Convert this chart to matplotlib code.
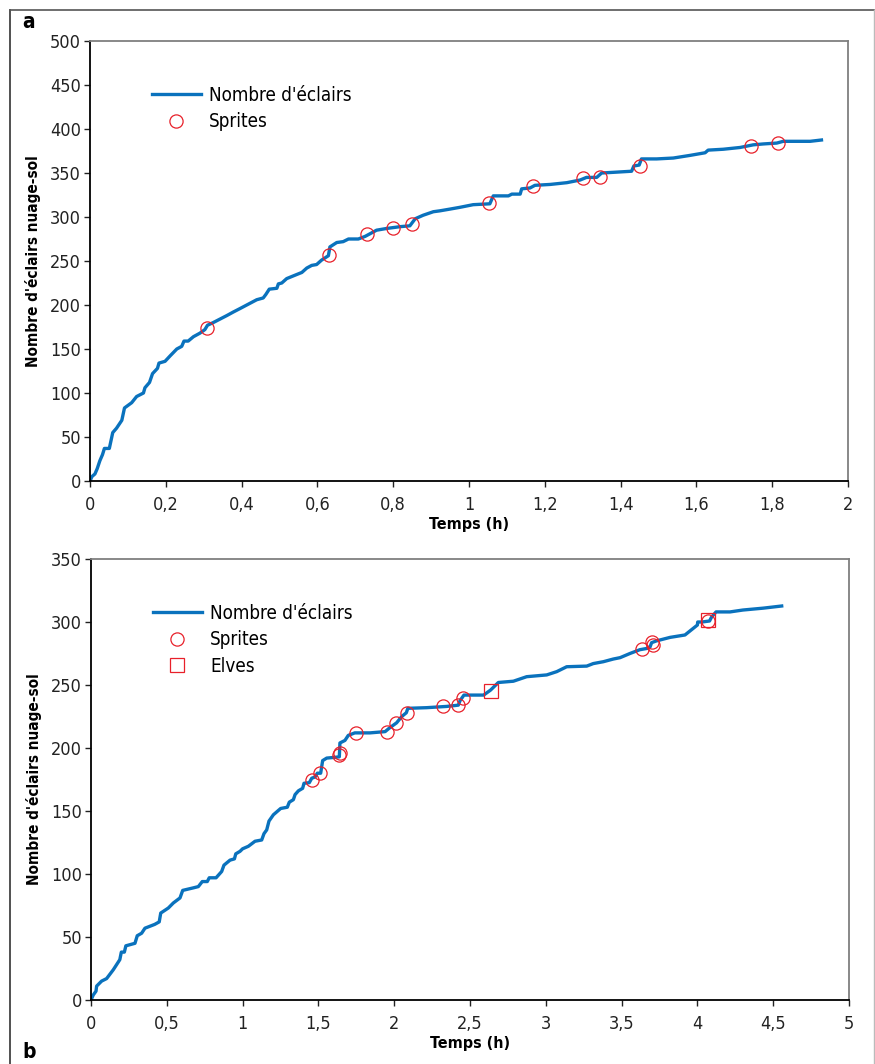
"""Cumulative cloud-to-ground flashes with sprites / elves (panels a and b)."""

import matplotlib
matplotlib.use("Agg")
import matplotlib.pyplot as plt
from matplotlib.lines import Line2D

plt.rcParams["font.family"] = ["DejaVu Sans"]
plt.rcParams["font.stretch"] = "condensed"

BLUE = "#0a72bd"
RED = "#e8202a"

# panel a
top_t = [0, .005, .013, .019, .026, .033, .038, .051, .060, .070, .084, .091, .11, .123,
         .141, .145, .157, .165, .178, .182, .198, .211, .229, .242, .248, .259, .273, .29,
         .303, .31, .325, .343, .361, .378, .396, .418, .44, .457, .464, .473, .493, .497,
         .506, .519, .536, .559, .572, .585, .598, .611, .629, .633, .651, .668, .682, .708,
         .726, .739, .756, .783, .818, .844, .858, .879, .906, .923, .95, .976, 1.011, 1.055,
         1.064, 1.104, 1.113, 1.135, 1.139, 1.161, 1.174, 1.214, 1.258, 1.293, 1.31, 1.337,
         1.35, 1.39, 1.429, 1.435, 1.449, 1.455, 1.495, 1.539, 1.583, 1.623, 1.631, 1.671,
         1.715, 1.75, 1.776, 1.812, 1.829, 1.9, 1.93]
top_n = [0, 5, 8, 14, 23, 30, 37, 37, 55, 60, 69, 83, 89, 96,
         100, 106, 112, 122, 128, 134, 136, 142, 150, 153, 159, 159, 164, 168,
         172, 177, 180, 184, 188, 192, 196, 201, 206, 208, 212, 218, 219, 224,
         225, 230, 233, 237, 242, 245, 246, 251, 256, 266, 271, 272, 275, 275,
         278, 281, 285, 287, 289, 290, 298, 302, 306, 307, 309, 311, 314, 315,
         324, 324, 326, 326, 332, 333, 336, 337, 339, 342, 345, 345,
         350, 351, 352, 358, 359, 366, 366, 367, 370, 373, 376, 377,
         379, 382, 383, 384, 386, 386, 387.5]
top_sprite_t = [0.308, 0.63, 0.731, 0.80, 0.849, 1.054, 1.168, 1.30, 1.346, 1.451, 1.744, 1.814]
top_sprite_n = [174, 257, 281, 288, 292, 315.5, 335, 344, 346, 358, 381, 384]

# panel b
bot_t = [0, .015, .033, .037, .07, .103, .147, .19, .2, .22, .23, .29, .305, .334, .356,
         .42, .45, .46, .51, .543, .587, .605, .675, .708, .734, .767, .78, .825, .862, .877,
         .917, .946, .955, .983, 1.0, 1.038, 1.082, 1.126, 1.141, 1.159, 1.174, 1.203, 1.251,
         1.295, 1.308, 1.335, 1.346, 1.368, 1.396, 1.405, 1.44, 1.456, 1.478, 1.493, 1.515,
         1.528, 1.555, 1.61, 1.638, 1.642, 1.675, 1.697, 1.74, 1.84, 1.94, 1.97, 2.016, 2.05,
         2.08, 2.09, 2.214, 2.346, 2.423, 2.434, 2.46, 2.59, 2.636, 2.687, 2.786, 2.874, 3.006,
         3.072, 3.138, 3.27, 3.313, 3.38, 3.445, 3.49, 3.555, 3.62, 3.666, 3.687, 3.698, 3.73,
         3.82, 3.918, 3.973, 4.0, 4.002, 4.03, 4.08, 4.094, 4.123, 4.215, 4.3, 4.435, 4.556]
bot_n = [0, 4, 7, 11, 15, 17, 24, 32, 38, 38, 43, 45, 51, 53, 57,
         60, 62, 69, 73, 77, 81, 87, 89, 90, 94, 94, 97, 97, 102, 107,
         111, 112, 116, 118, 120, 122, 126, 127, 132, 135, 142, 147, 152,
         153, 157, 159, 163, 166, 168, 172, 172.5, 176, 177, 180, 180,
         190, 192, 192.6, 193, 204, 206, 210, 212, 212, 213, 216, 220, 225,
         228, 231.5, 232, 233, 234, 237.5, 242, 242, 246, 252, 253, 256.6, 258,
         260.6, 264.5, 265, 267, 268.5, 270.6, 271.7, 275, 278, 279, 280, 283.6, 285,
         287.8, 289.7, 295, 297.6, 300, 300, 300.8, 304, 308, 308, 309.5, 311, 312.7]
bot_sprite_t = [1.456, 1.51, 1.638, 1.643, 1.748, 1.95, 2.012, 2.082, 2.32, 2.423, 2.452,
                3.632, 3.705, 3.703, 4.072]
bot_sprite_n = [174.6, 180.4, 194.4, 196, 211.6, 212.4, 219.6, 227.5, 233, 234, 239.4,
                278.3, 281.7, 284.4, 301]
bot_elve_t = [2.636, 4.072]
bot_elve_n = [245.5, 301.6]

top_xticks = [0, 0.2, 0.4, 0.6, 0.8, 1, 1.2, 1.4, 1.6, 1.8, 2]
top_xlabels = ["0", "0,2", "0,4", "0,6", "0,8", "1", "1,2", "1,4", "1,6", "1,8", "2"]
top_yticks = [0, 50, 100, 150, 200, 250, 300, 350, 400, 450, 500]
bot_xticks = [0, 0.5, 1, 1.5, 2, 2.5, 3, 3.5, 4, 4.5, 5]
bot_xlabels = ["0", "0,5", "1", "1,5", "2", "2,5", "3", "3,5", "4", "4,5", "5"]
bot_yticks = [0, 50, 100, 150, 200, 250, 300, 350]

W, H = 875, 1064


def style_axes(ax, xticks, xlabels, yticks):
    ax.set_xticks(xticks)
    ax.set_xticklabels(xlabels)
    ax.set_yticks(yticks)
    ax.set_xlim(xticks[0], xticks[-1])
    ax.set_ylim(yticks[0], yticks[-1])
    for side in ("left", "bottom"):
        ax.spines[side].set_color("black")
        ax.spines[side].set_linewidth(1.3)
    for side in ("top", "right"):
        ax.spines[side].set_color("#7f7f7f")
        ax.spines[side].set_linewidth(1.3)
    ax.tick_params(axis="both", direction="out", length=4.5, width=1, labelsize=13,
                   colors="#222222")
    ax.tick_params(axis="x", pad=6)
    ax.tick_params(axis="y", pad=2)
    ax.set_ylabel("Nombre d'éclairs nuage-sol", fontsize=11, fontweight="bold")
    ax.set_xlabel("Temps (h)", fontsize=11.5, fontweight="bold")
    ax.yaxis.set_label_coords(-0.064, 0.5)


fig = plt.figure(figsize=(W / 100, H / 100), dpi=100)

# outer frame
fig.add_artist(Line2D([10 / W, 10 / W], [0, 1 - 10 / H], color="#333333", lw=1.2))
fig.add_artist(Line2D([10 / W, 874 / W], [1 - 10 / H, 1 - 10 / H], color="#555555", lw=1.2))
fig.add_artist(Line2D([874 / W, 874 / W], [0, 1 - 10 / H], color="#bbbbbb", lw=1.0))

ax1 = fig.add_axes([90 / W, (H - 481) / H, 758 / W, 440 / H])
ax1.plot(top_t, top_n, color=BLUE, lw=2.4, label="Nombre d'éclairs")
ax1.plot(top_sprite_t, top_sprite_n, ls="none", marker="o", ms=9.5, mfc="none",
         mec=RED, mew=0.9, label="Sprites")
style_axes(ax1, top_xticks, top_xlabels, top_yticks)
ax1.xaxis.set_label_coords(0.5, -0.081)
ax1.legend(loc="upper left", bbox_to_anchor=(0.072, 0.915), frameon=False, fontsize=13.5,
           handlelength=2.6, handletextpad=0.45, labelspacing=0.4, borderaxespad=0)

ax2 = fig.add_axes([91 / W, (H - 1000) / H, 758 / W, 441 / H])
ax2.plot(bot_t, bot_n, color=BLUE, lw=2.4, label="Nombre d'éclairs")
ax2.plot(bot_sprite_t, bot_sprite_n, ls="none", marker="o", ms=9.5, mfc="none",
         mec=RED, mew=0.9, label="Sprites")
ax2.plot(bot_elve_t, bot_elve_n, ls="none", marker="s", ms=9.5, mfc="none",
         mec=RED, mew=0.9, label="Elves")
style_axes(ax2, bot_xticks, bot_xlabels, bot_yticks)
ax2.xaxis.set_label_coords(0.5, -0.082)
ax2.legend(loc="upper left", bbox_to_anchor=(0.072, 0.915), frameon=False, fontsize=13.5,
           handlelength=2.6, handletextpad=0.45, labelspacing=0.4, borderaxespad=0)

fig.text(22 / W, 1 - 22 / H, "a", fontsize=15, fontweight="bold", ha="left", va="center")
fig.text(22 / W, 1 - 1052 / H, "b", fontsize=15, fontweight="bold", ha="left", va="center")

fig.savefig("out.png", dpi=100)
